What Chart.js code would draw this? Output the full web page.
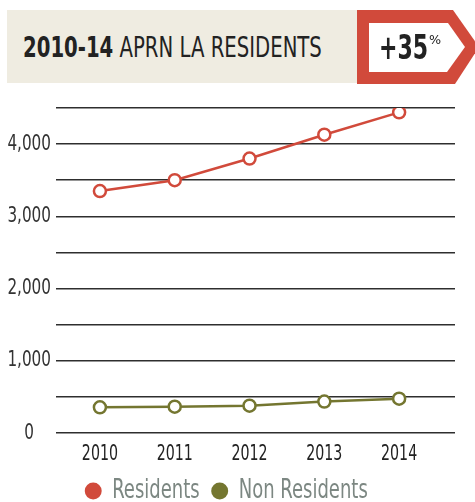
<!DOCTYPE html>
<html>
<head>
<meta charset="utf-8">
<script src="https://cdn.jsdelivr.net/npm/chart.js@4.4.0/dist/chart.umd.min.js"></script>
<style>
  html, body { margin: 0; padding: 0; background: #fff; }
  body { width: 475px; height: 502px; position: relative; overflow: hidden;
         font-family: "DejaVu Sans Condensed", "DejaVu Sans", sans-serif; }
  #wrap { position: absolute; left: 0; top: 0; width: 475px; height: 502px; }
  .band { position: absolute; left: 7px; top: 10px; width: 350px; height: 73px; background: #efece1; }
  .txt { position: absolute; white-space: nowrap; color: #222; transform-origin: 0 0; }
  .title { left: 23px; top: 34px; font-size: 27.5px; line-height: 27.5px; }
  .title b { font-weight: bold; }
  .tag { position: absolute; left: 357px; top: 10px; }
  .pct { left: 379px; top: 31px; font-size: 33px; line-height: 33px; font-weight: bold; }
  .sign { left: 429px; top: 33px; font-size: 13px; line-height: 13px; }
</style>
</head>
<body>
<div id="wrap"><canvas id="chart" width="475" height="502"></canvas></div>
<div class="band"></div>
<div class="txt title" data-w="299"><b>2010-14</b> APRN LA RESIDENTS</div>
<svg class="tag" width="118" height="74">
  <polygon points="0,0 96,0 122,37 98,74 0,74" fill="#d14a3b"/>
  <polygon points="12,13 91,13 108,37 90,62 12,62" fill="#fff"/>
</svg>
<div class="txt pct" data-w="49">+35</div>
<div class="txt sign" data-w="12">%</div>
<script>
// values
const years = [2010, 2011, 2012, 2013, 2014];
const residents = [3350, 3500, 3800, 4130, 4440];
const nonResidents = [355, 365, 378, 435, 475];
const yTicks = [0, 1000, 2000, 3000, 4000];

const fontFamily = '"DejaVu Sans Condensed", "DejaVu Sans", sans-serif';
const red = '#d14a3b';
const olive = '#747630';
const squeeze = 0.77; // the original uses a narrow gothic face

// squeeze header text to the widths of the original
document.querySelectorAll('.txt').forEach(el => {
  el.style.transform = 'scaleX(' + (el.dataset.w / el.offsetWidth) + ')';
});

// narrow every text the chart draws (and measures) horizontally
const narrowText = {
  id: 'narrowText',
  beforeInit(chart) {
    const ctx = chart.ctx;
    const fill = ctx.fillText.bind(ctx);
    const measure = ctx.measureText.bind(ctx);
    ctx.fillText = (t, x, y) => {
      ctx.save();
      ctx.translate(x, y);
      ctx.scale(squeeze, 1);
      fill(t, 0, 0);
      ctx.restore();
    };
    ctx.measureText = (t) => {
      const m = measure(t);
      return {
        width: m.width * squeeze,
        actualBoundingBoxAscent: m.actualBoundingBoxAscent,
        actualBoundingBoxDescent: m.actualBoundingBoxDescent
      };
    };
  }
};

const toPoints = (vals) => vals.map((v, i) => ({ x: years[i], y: v }));

const lineStyle = (color) => ({
  borderColor: color,
  backgroundColor: color,
  borderWidth: 2.5,
  pointRadius: 6,
  pointBorderWidth: 2.5,
  pointBackgroundColor: '#fff',
  pointBorderColor: color,
  tension: 0
});

new Chart(document.getElementById('chart'), {
  type: 'line',
  data: {
    datasets: [
      { label: 'Residents', data: toPoints(residents), ...lineStyle(red) },
      { label: 'Non Residents', data: toPoints(nonResidents), ...lineStyle(olive) }
    ]
  },
  options: {
    responsive: false,
    animation: false,
    layout: { padding: { top: 108, right: 20, left: 0, bottom: -12 } },
    scales: {
      x: {
        type: 'linear',
        min: 2009.413,
        max: 2014.747,
        border: { display: false },
        grid: { display: false, drawTicks: false },
        afterBuildTicks: (scale) => { scale.ticks = years.map(v => ({ value: v })); },
        afterFit: (scale) => { scale.height = 31; },
        ticks: {
          padding: 9,
          color: '#222',
          font: { family: fontFamily, size: 20.5 },
          callback: (v) => String(v)
        }
      },
      y: {
        min: 0,
        max: 4500,
        border: { display: false },
        grid: { color: '#2e2e2e', lineWidth: 1.5, drawTicks: false },
        afterFit: (scale) => { scale.width = 56; },
        ticks: {
          stepSize: 500,
          padding: 5,
          crossAlign: 'center',
          color: '#333',
          font: { family: fontFamily, size: 22 },
          callback: (v) => yTicks.includes(v) ? v.toLocaleString('en-US') : ''
        }
      }
    },
    plugins: {
      legend: {
        position: 'bottom',
        labels: {
          usePointStyle: true,
          pointStyle: 'circle',
          boxWidth: 12,
          boxHeight: 12,
          padding: 14,
          color: '#7c8782',
          font: { family: fontFamily, size: 26 },
          generateLabels: (c) => Chart.defaults.plugins.legend.labels.generateLabels(c)
            .map(l => ({ ...l, fillStyle: l.strokeStyle, lineWidth: 0 }))
        }
      },
      tooltip: { enabled: false }
    }
  },
  plugins: [narrowText]
});
</script>
</body>
</html>
